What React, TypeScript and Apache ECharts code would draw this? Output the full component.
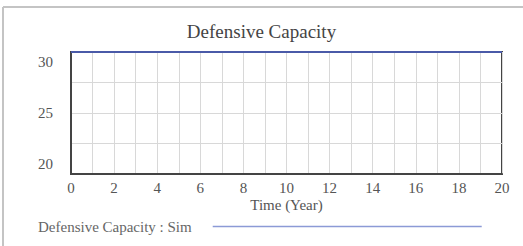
import React, { useEffect, useRef } from "react";
import * as echarts from "echarts";

const title = "Defensive Capacity";
const seriesName = "Defensive Capacity : Sim";
const xAxisName = "Time (Year)";
const years = [0, 1, 2, 3, 4, 5, 6, 7, 8, 9, 10, 11, 12, 13, 14, 15, 16, 17, 18, 19, 20];
const values = [30, 30, 30, 30, 30, 30, 30, 30, 30, 30, 30, 30, 30, 30, 30, 30, 30, 30, 30, 30, 30];
const yLabels = [20, 25, 30];
const xLabels = [0, 2, 4, 6, 8, 10, 12, 14, 16, 18, 20];

const FONT = "'Liberation Serif', 'DejaVu Serif', serif";

export default function App() {
  const ref = useRef<HTMLDivElement>(null);
  useEffect(() => {
    if (!ref.current) return;
    const chart = echarts.init(ref.current, null, { renderer: "svg" });
    chart.setOption({
      animation: false,
      backgroundColor: "#ffffff",
      title: {
        text: title,
        left: "center",
        top: 17,
        textStyle: { fontFamily: FONT, fontSize: 19, fontWeight: "normal", color: "#444" },
      },
      graphic: [
        { type: "line", shape: { x1: 3, y1: 7, x2: 523, y2: 7 }, style: { stroke: "#c4c4c4", lineWidth: 2 } },
        { type: "line", shape: { x1: 3, y1: 7, x2: 3, y2: 246 }, style: { stroke: "#c4c4c4", lineWidth: 2 } },
      ],
      legend: {
        left: 38,
        top: 219,
        padding: 0,
        align: "right",
        icon: "rect",
        itemWidth: 269,
        itemHeight: 1.5,
        data: [{ name: seriesName, itemStyle: { color: "#8c9ad6" } }],
        textStyle: { fontFamily: FONT, fontSize: 15, color: "#666", padding: [0, 16, 0, 0] },
      },
      grid: {
        left: 71,
        right: 21,
        top: 52,
        bottom: 72,
        show: true,
        borderColor: "#444",
        borderWidth: 2,
      },
      xAxis: {
        type: "value",
        min: 0,
        max: 20,
        interval: 1,
        name: xAxisName,
        nameLocation: "middle",
        nameGap: 23,
        nameTextStyle: { fontFamily: FONT, fontSize: 15, color: "#555" },
        axisLine: { show: true, lineStyle: { color: "#444", width: 2 } },
        axisTick: { show: false },
        axisLabel: {
          fontFamily: FONT,
          fontSize: 15,
          color: "#555",
          margin: 6,
          formatter: (v: number) => (xLabels.indexOf(v) >= 0 ? String(v) : ""),
        },
        splitLine: { show: true, lineStyle: { color: "#d8d8d8", width: 1 } },
      },
      yAxis: {
        type: "value",
        min: 20,
        max: 30,
        interval: 2.5,
        axisLine: { show: true, lineStyle: { color: "#444", width: 2 } },
        axisTick: { show: false },
        axisLabel: {
          fontFamily: FONT,
          fontSize: 15,
          color: "#555",
          margin: 18,
          formatter: (v: number) => {
            if (yLabels.indexOf(v) < 0) return "";
            if (v === 30) return "{top|" + v + "}";
            if (v === 20) return "{bot|" + v + "}";
            return String(v);
          },
          rich: {
            top: { fontFamily: FONT, fontSize: 15, color: "#555", padding: [20, 0, 0, 0] },
            bot: { fontFamily: FONT, fontSize: 15, color: "#555", padding: [0, 0, 20, 0] },
          },
        },
        splitLine: { show: true, lineStyle: { color: "#d8d8d8", width: 1 } },
      },
      series: [
        {
          name: seriesName,
          type: "line",
          data: years.map((t, i) => [t, values[i]]),
          showSymbol: false,
          clip: false,
          lineStyle: { color: "#4a5aa8", width: 2 },
          itemStyle: { color: "#4a5aa8" },
        },
      ],
    });
    return () => chart.dispose();
  }, []);
  return <div ref={ref} style={{ width: 523, height: 246, position: "absolute", left: 0, top: 0 }} />;
}
